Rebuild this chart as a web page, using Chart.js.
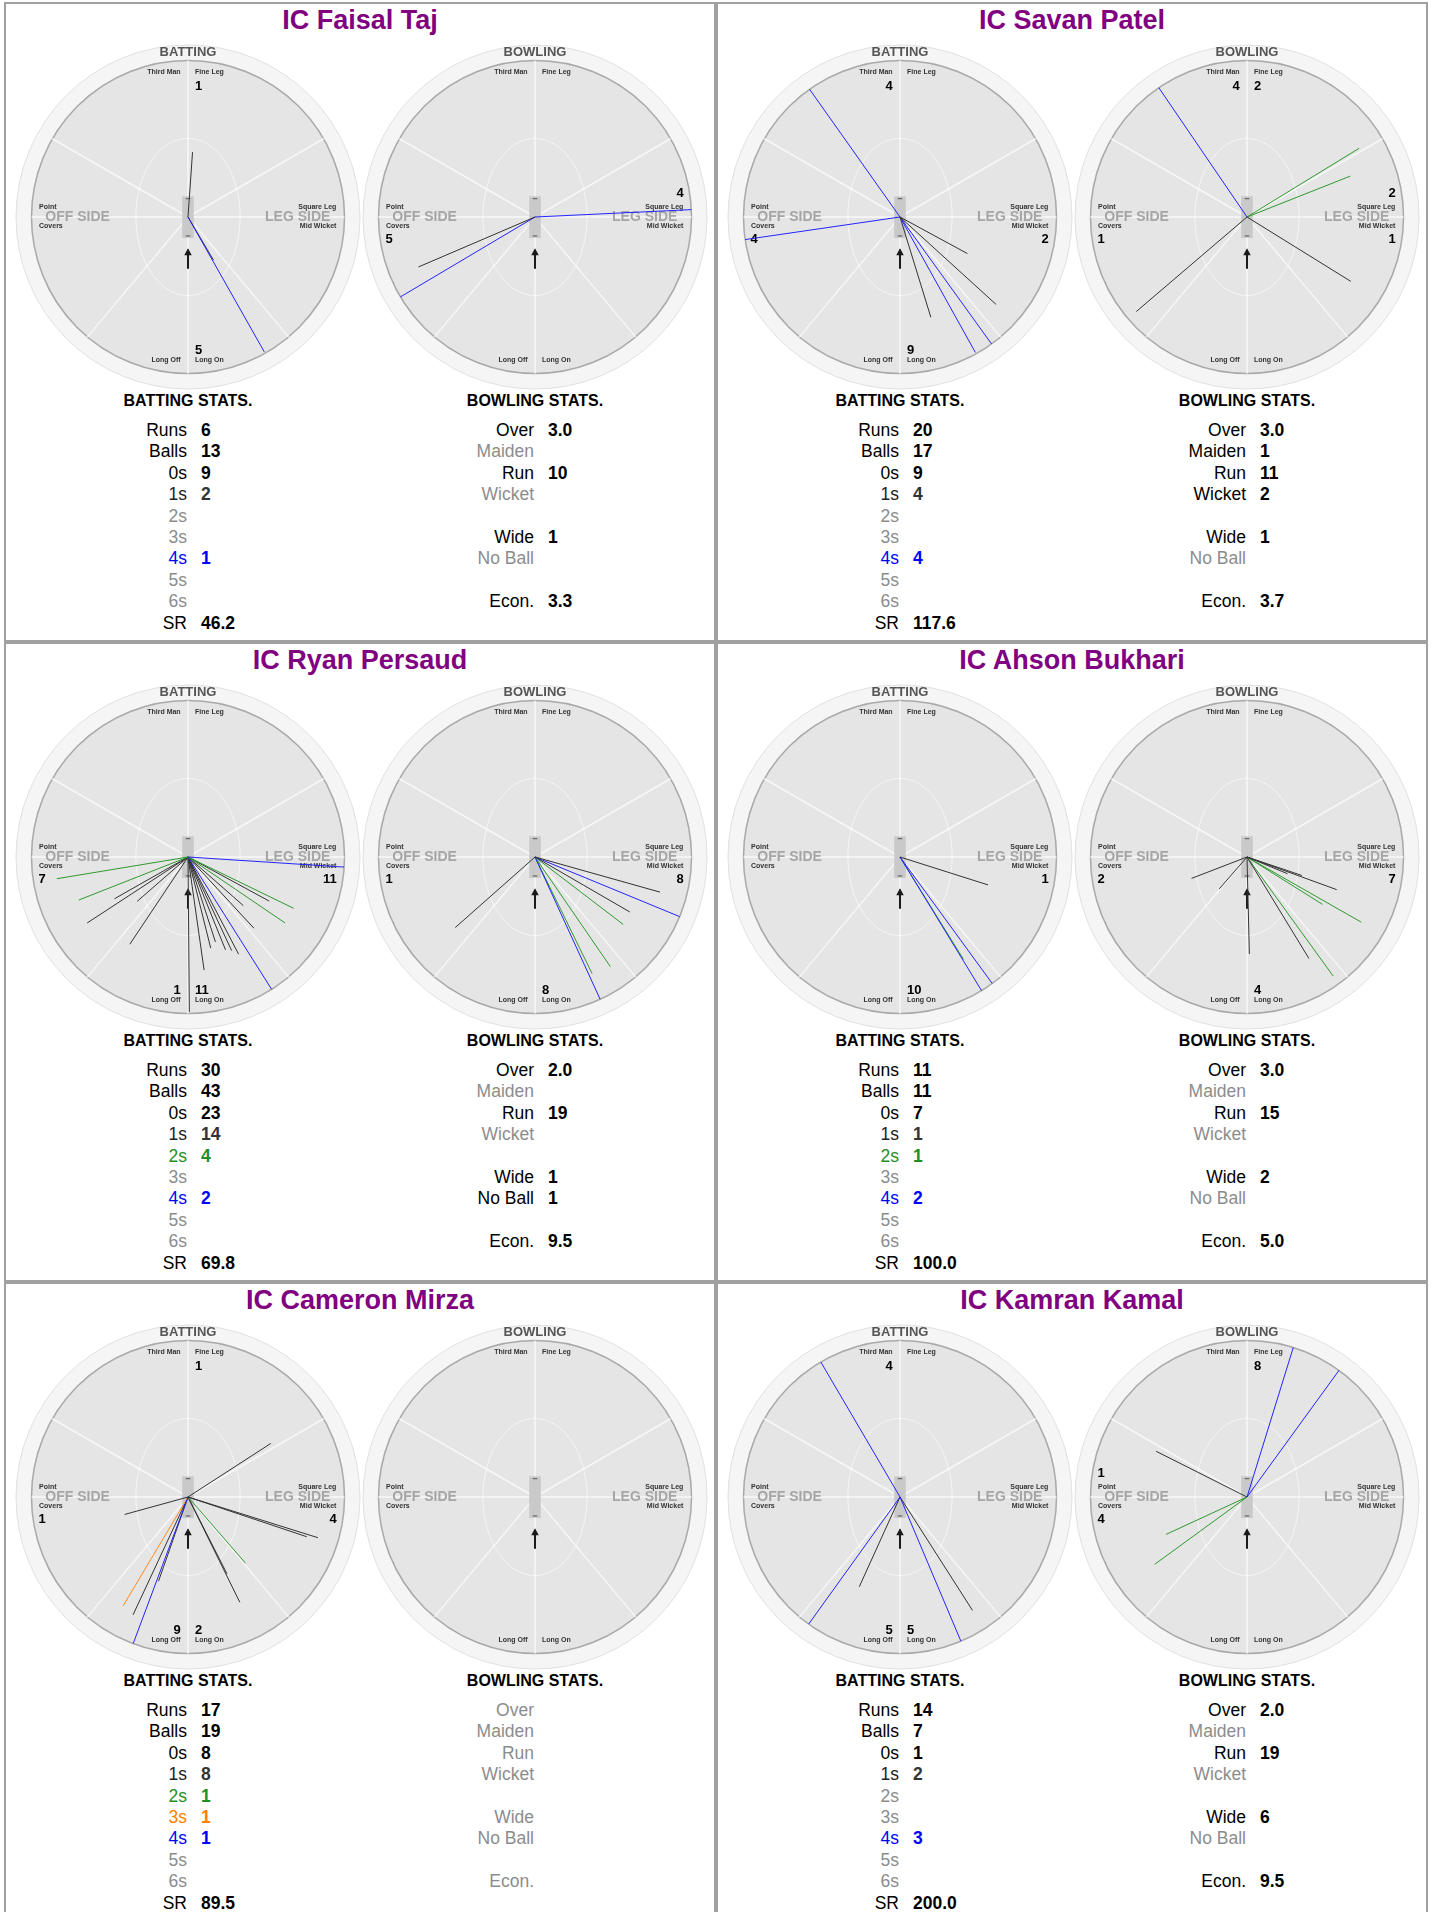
<!DOCTYPE html>
<html>
<head>
<meta charset="utf-8">
<script src="https://cdn.jsdelivr.net/npm/chart.js@4.4.0/dist/chart.umd.min.js"></script>
<style>
  body { margin: 0; background: #fff; font-family: 'Liberation Sans', Arial, sans-serif; }
  #page { position: relative; width: 1434px; height: 1912px; overflow: hidden; }
  .panel { position: absolute; width: 712px; height: 640px; box-sizing: border-box; border: 2px solid #a0a0a0; }
  .title { position: absolute; left: 0; top: 0; width: 708px; text-align: center; font-size: 27px; font-weight: bold; color: #800080; line-height: 32px; }
  .wheel { position: absolute; top: 40px; }
  .head { position: absolute; top: 387px; width: 240px; text-align: center; font-weight: bold; font-size: 16px; line-height: 20px; color: #000; }
  .col { position: absolute; top: 416px; font-size: 17.5px; line-height: 21.4px; }
  .col div { height: 21.4px; white-space: nowrap; }
  .labels { width: 140px; text-align: right; }
  .values { font-weight: bold; }
</style>
</head>
<body>
<div id="page"></div>
<script>
const players = ['IC Faisal Taj', 'IC Savan Patel', 'IC Ryan Persaud', 'IC Ahson Bukhari', 'IC Cameron Mirza', 'IC Kamran Kamal'];

const batLabels = ['Runs', 'Balls', '0s', '1s', '2s', '3s', '4s', '5s', '6s', 'SR'];
const batStats = [
  [6, 13, 9, 2, null, null, 1, null, null, '46.2'],
  [20, 17, 9, 4, null, null, 4, null, null, '117.6'],
  [30, 43, 23, 14, 4, null, 2, null, null, '69.8'],
  [11, 11, 7, 1, 1, null, 2, null, null, '100.0'],
  [17, 19, 8, 8, 1, 1, 1, null, null, '89.5'],
  [14, 7, 1, 2, null, null, 3, null, null, '200.0']
];

const bowlLabels = ['Over', 'Maiden', 'Run', 'Wicket', '', 'Wide', 'No Ball', '', 'Econ.'];
const bowlStats = [
  ['3.0', null, 10, null, '', 1, null, '', '3.3'],
  ['3.0', 1, 11, 2, '', 1, null, '', '3.7'],
  ['2.0', null, 19, null, '', 1, 1, '', '9.5'],
  ['3.0', null, 15, null, '', 2, null, '', '5.0'],
  [null, null, null, null, '', null, null, '', null],
  ['2.0', null, 19, null, '', 6, null, '', '9.5']
];

// shots: [angle clockwise from the keeper end (deg), distance (1 = boundary), runs]
const batShots = [
  [[4, 0.415, 1], [150.5, 0.99, 4], [149.4, 0.32, 1]],
  [[324.7, 1, 4], [261.7, 1, 4], [118.5, 0.49, 1], [132.3, 0.83, 1], [162.9, 0.67, 1], [150.9, 0.99, 4], [144.2, 1, 4]],
  [[260.6, 0.85, 2], [248.5, 0.75, 2], [240.4, 0.54, 1], [228.9, 0.43, 1], [236.8, 0.77, 1], [213.7, 0.67, 1],
   [93.7, 1, 4], [115.9, 0.75, 2], [124.2, 0.75, 2], [118.5, 0.59, 1], [137.2, 0.62, 1], [131.3, 0.47, 1],
   [147.7, 1, 4], [179.5, 0.99, 1], [171.9, 0.73, 1], [166, 0.6, 1], [162.1, 0.57, 1], [158, 0.64, 1], [155, 0.66, 1], [152.5, 0.7, 1]],
  [[107.6, 0.59, 1], [143.9, 1, 4], [148.6, 1, 4], [148.2, 0.77, 2]],
  [[57.1, 0.63, 1], [254.6, 0.42, 1], [107.4, 0.87, 1], [108.5, 0.8, 1], [139, 0.56, 2], [153.1, 0.55, 1], [153.8, 0.75, 1],
   [200.5, 1, 4], [210.8, 0.81, 3], [205, 0.83, 1], [199.3, 0.57, 1]],
  [[329.6, 1, 4], [215.7, 1, 4], [204.4, 0.63, 1], [157.1, 1, 4], [147.4, 0.86, 1]]
];
const bowlShots = [
  [[87.3, 1, 4], [246.8, 0.81, 1], [239.3, 1, 4]],
  [[325.7, 1, 4], [58.5, 0.84, 2], [68.4, 0.71, 2], [229.5, 0.93, 1], [121.8, 0.78, 1]],
  [[228.5, 0.68, 1], [105.7, 0.83, 1], [112.4, 1, 4], [120.1, 0.7, 1], [127.4, 0.71, 2], [155.4, 1, 4], [153.9, 0.83, 2], [145.5, 0.85, 2]],
  [[248.9, 0.38, 1], [221, 0.27, 1], [110, 0.61, 1], [108.6, 0.37, 1], [112.4, 0.28, 1], [122.1, 0.57, 2], [119.7, 0.84, 2],
   [178.6, 0.62, 1], [148.6, 0.76, 1], [144.1, 0.94, 2]],
  [],
  [[17.2, 1, 4], [36, 1, 4], [296.7, 0.65, 1], [245.2, 0.57, 2], [233.9, 0.73, 2]]
];

// field regions, clockwise from the keeper end
const regions = [
  ['Fine Leg', 0, 60], ['Square Leg', 60, 90], ['Mid Wicket', 90, 140], ['Long On', 140, 180],
  ['Long Off', 180, 220], ['Covers', 220, 270], ['Point', 270, 300], ['Third Man', 300, 360]
];

const runColor = { 1: '#333333', 2: '#2f9a2f', 3: '#ff8a1c', 4: '#2424ff', 6: '#c000c0' };

// label placement, in field radii from the centre (y down)
const regionText = {
  'Third Man': [-0.047, -0.925, 'right'], 'Fine Leg': [0.045, -0.925, 'left'],
  'Point': [-0.952, -0.064, 'left'], 'Covers': [-0.952, 0.056, 'left'],
  'Square Leg': [0.948, -0.064, 'right'], 'Mid Wicket': [0.948, 0.056, 'right'],
  'Long Off': [-0.047, 0.916, 'right'], 'Long On': [0.045, 0.916, 'left']
};
const countText = {
  'Third Man': [-0.047, -0.835, 'right'], 'Fine Leg': [0.045, -0.835, 'left'],
  'Point': [-0.955, -0.149, 'left'], 'Covers': [-0.955, 0.142, 'left'],
  'Square Leg': [0.95, -0.149, 'right'], 'Mid Wicket': [0.95, 0.142, 'right'],
  'Long Off': [-0.047, 0.852, 'right'], 'Long On': [0.045, 0.852, 'left']
};

const FIELD = 156.5;          // px radius of the playing area
const HALF = 173;             // px half size of each wheel canvas
const EXT = HALF / FIELD;     // axis extent in field radii
const RING = 172 / FIELD;

function regionOf(angle) {
  const a = ((angle % 360) + 360) % 360;
  return regions.find(r => a >= r[1] && a < r[2])[0];
}

const fieldPlugin = {
  id: 'field',
  beforeDatasetsDraw(chart, args, opts) {
    const { ctx, scales: { x, y } } = chart;
    const cx = x.getPixelForValue(0), cy = y.getPixelForValue(0);
    const R = x.getPixelForValue(1) - cx;
    const font = (w, s) => w + ' ' + s + 'px "Liberation Sans", Arial, sans-serif';
    ctx.save();

    ctx.beginPath();
    ctx.arc(cx, cy, RING * R, 0, Math.PI * 2);
    ctx.fillStyle = '#f5f5f5';
    ctx.fill();
    ctx.strokeStyle = '#e0e0e0';
    ctx.lineWidth = 1;
    ctx.stroke();

    ctx.beginPath();
    ctx.arc(cx, cy, R, 0, Math.PI * 2);
    ctx.fillStyle = '#e5e5e5';
    ctx.fill();
    ctx.strokeStyle = '#a9a9a9';
    ctx.lineWidth = 1.5;
    ctx.stroke();

    ctx.beginPath();
    [0, 60, 90, 140, 180, 220, 270, 300].forEach(a => {
      const r = a * Math.PI / 180;
      ctx.moveTo(cx, cy);
      ctx.lineTo(cx + R * Math.sin(r), cy - R * Math.cos(r));
    });
    ctx.strokeStyle = '#f7f7f7';
    ctx.lineWidth = 1.5;
    ctx.stroke();

    ctx.beginPath();
    ctx.ellipse(cx, cy, 0.333 * R, 0.502 * R, 0, 0, Math.PI * 2);
    ctx.strokeStyle = 'rgba(255,255,255,0.6)';
    ctx.lineWidth = 1;
    ctx.stroke();

    // pitch and creases
    ctx.fillStyle = '#c9c9c9';
    ctx.fillRect(cx - 0.037 * R, cy - 0.132 * R, 0.074 * R, 0.266 * R);
    ctx.beginPath();
    ctx.moveTo(cx - 0.015 * R, cy - 0.117 * R); ctx.lineTo(cx + 0.015 * R, cy - 0.117 * R);
    ctx.moveTo(cx - 0.015 * R, cy + 0.121 * R); ctx.lineTo(cx + 0.015 * R, cy + 0.121 * R);
    ctx.strokeStyle = '#555';
    ctx.lineWidth = 1;
    ctx.stroke();

    // direction arrow
    ctx.beginPath();
    ctx.moveTo(cx, cy + 0.33 * R); ctx.lineTo(cx, cy + 0.21 * R);
    ctx.strokeStyle = '#1a1a1a';
    ctx.lineWidth = 2;
    ctx.stroke();
    ctx.beginPath();
    ctx.moveTo(cx, cy + 0.2 * R);
    ctx.lineTo(cx - 0.024 * R, cy + 0.245 * R);
    ctx.lineTo(cx + 0.024 * R, cy + 0.245 * R);
    ctx.closePath();
    ctx.fillStyle = '#1a1a1a';
    ctx.fill();

    ctx.textBaseline = 'middle';
    ctx.textAlign = 'center';
    ctx.fillStyle = '#555';
    ctx.font = font('bold', 13);
    ctx.fillText(opts.title, cx, cy - 1.054 * R);

    ctx.fillStyle = '#a6a6a6';
    ctx.font = font('bold', 14);
    ctx.textAlign = 'left';
    ctx.fillText('OFF SIDE', cx - 0.912 * R, cy + 0.5);
    ctx.textAlign = 'right';
    ctx.fillText('LEG SIDE', cx + 0.91 * R, cy + 0.5);

    ctx.fillStyle = '#333';
    ctx.font = font('bold', 7);
    Object.entries(regionText).forEach(([name, p]) => {
      ctx.textAlign = p[2];
      ctx.fillText(name, cx + p[0] * R, cy + p[1] * R);
    });

    ctx.fillStyle = '#000';
    ctx.font = font('bold', 13);
    Object.entries(opts.counts).forEach(([name, runs]) => {
      const p = countText[name];
      ctx.textAlign = p[2];
      ctx.fillText(String(runs), cx + p[0] * R, cy + p[1] * R);
    });
    ctx.restore();
  }
};

function drawWheel(parent, left, title, shots) {
  const canvas = document.createElement('canvas');
  canvas.className = 'wheel';
  canvas.width = HALF * 2;
  canvas.height = HALF * 2;
  canvas.style.left = left + 'px';
  parent.appendChild(canvas);

  const counts = {};
  shots.forEach(s => {
    const r = regionOf(s[0]);
    counts[r] = (counts[r] || 0) + s[2];
  });

  new Chart(canvas, {
    type: 'scatter',
    data: {
      datasets: shots.map(s => {
        const a = s[0] * Math.PI / 180;
        return {
          data: [{ x: 0, y: 0 }, { x: s[1] * Math.sin(a), y: s[1] * Math.cos(a) }],
          showLine: true,
          borderColor: runColor[s[2]],
          borderWidth: 1,
          pointRadius: 0,
          pointHoverRadius: 0
        };
      })
    },
    options: {
      responsive: false,
      animation: false,
      devicePixelRatio: 1,
      layout: { padding: 0 },
      scales: {
        x: { type: 'linear', min: -EXT, max: EXT, display: false },
        y: { type: 'linear', min: -EXT, max: EXT, display: false }
      },
      plugins: {
        legend: { display: false },
        tooltip: { enabled: false },
        field: { title: title, counts: counts }
      }
    },
    plugins: [fieldPlugin]
  });
}

function statColour(label, value, batting) {
  if (value === null) return '#8c8c8c';
  if (!batting) return '#000';
  if (label === '2s') return '#1f8f1f';
  if (label === '3s') return '#ff7f00';
  if (label === '4s') return '#0000ff';
  if (label === '1s') return '#222';
  return '#000';
}

function drawStats(parent, centre, heading, labels, values, batting) {
  const head = document.createElement('div');
  head.className = 'head';
  head.style.left = (centre - 120) + 'px';
  head.textContent = heading;
  parent.appendChild(head);

  const lab = document.createElement('div');
  lab.className = 'col labels';
  lab.style.left = (centre - 1 - 140) + 'px';
  const val = document.createElement('div');
  val.className = 'col values';
  val.style.left = (centre + 13) + 'px';
  labels.forEach((l, i) => {
    const v = values[i];
    const c = statColour(l, v, batting);
    const a = document.createElement('div');
    a.textContent = l;
    a.style.color = c;
    lab.appendChild(a);
    const b = document.createElement('div');
    b.textContent = v === null ? '' : v;
    b.style.color = c === '#8c8c8c' ? c : (c === '#222' ? '#333' : c);
    val.appendChild(b);
  });
  parent.appendChild(lab);
  parent.appendChild(val);
}

const page = document.getElementById('page');
const colCentres = [182, 529];

players.forEach((name, i) => {
  const panel = document.createElement('div');
  panel.className = 'panel';
  panel.style.left = (i % 2 === 0 ? 4 : 716) + 'px';
  panel.style.top = (2 + Math.floor(i / 2) * 640) + 'px';
  page.appendChild(panel);

  const t = document.createElement('div');
  t.className = 'title';
  t.textContent = name;
  panel.appendChild(t);

  drawWheel(panel, colCentres[0] - HALF, 'BATTING', batShots[i]);
  drawWheel(panel, colCentres[1] - HALF, 'BOWLING', bowlShots[i]);
  drawStats(panel, colCentres[0], 'BATTING STATS.', batLabels, batStats[i], true);
  drawStats(panel, colCentres[1], 'BOWLING STATS.', bowlLabels, bowlStats[i], false);
});
</script>
</body>
</html>
